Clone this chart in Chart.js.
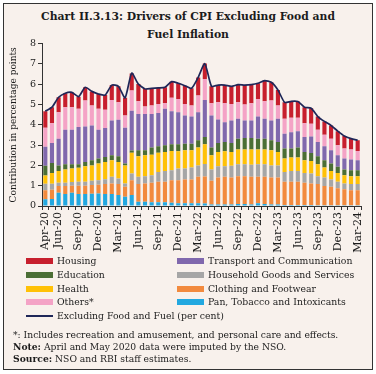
<!DOCTYPE html>
<html lang="en">
<head>
<meta charset="UTF-8">
<title>Chart II.3.13: Drivers of CPI Excluding Food and Fuel Inflation</title>
<script src="https://cdn.jsdelivr.net/npm/chart.js@4.4.1/dist/chart.umd.min.js"></script>
<style>
  * { box-sizing: border-box; margin: 0; padding: 0; }
  body {
    width: 376px; height: 374px; background: #fff;
    position: relative; overflow: hidden;
    font-family: "DejaVu Serif", serif; color: #1c1c1c;
  }
  .frame {
    position: absolute; left: 3px; top: 3px; width: 370px; height: 367px;
    border: 1.5px solid #333; background: #f8f1ec;
  }
  .title {
    position: absolute; left: 0; width: 376px; top: 8px; text-align: center;
    font-weight: bold; font-size: 10.8px; line-height: 17.5px;
  }
  #wrap { position: absolute; left: 0; top: 36px; width: 376px; height: 224px; }
  .leg { position: absolute; font-size: 9.3px; line-height: 12px; white-space: nowrap; }
  .sw { position: absolute; width: 27px; height: 6px; }
  .notes { position: absolute; left: 13px; top: 329px; font-size: 9.2px; line-height: 12px; white-space: nowrap; }
</style>
</head>
<body>
<div class="frame"></div>
<div class="title">Chart II.3.13: Drivers of CPI Excluding Food and<br>Fuel Inflation</div>
<div id="wrap"><canvas id="cpiChart" width="376" height="224"></canvas></div>
<div id="legend"></div>
<div class="notes">
  *: Includes recreation and amusement, and personal care and effects.<br>
  <b>Note:</b> April and May 2020 data were imputed by the NSO.<br>
  <b>Source:</b> NSO and RBI staff estimates.
</div>

<script>
  const months = [
    'Apr-20','May-20','Jun-20','Jul-20','Aug-20','Sep-20','Oct-20','Nov-20','Dec-20','Jan-21','Feb-21','Mar-21',
    'Apr-21','May-21','Jun-21','Jul-21','Aug-21','Sep-21','Oct-21','Nov-21','Dec-21','Jan-22','Feb-22','Mar-22',
    'Apr-22','May-22','Jun-22','Jul-22','Aug-22','Sep-22','Oct-22','Nov-22','Dec-22','Jan-23','Feb-23','Mar-23',
    'Apr-23','May-23','Jun-23','Jul-23','Aug-23','Sep-23','Oct-23','Nov-23','Dec-23','Jan-24','Feb-24','Mar-24'
  ];
  // labels actually printed under the axis
  const shownLabels = ['Apr-20','Jun-20','Sep-20','Dec-20','Mar-21','Jun-21','Sep-21','Dec-21','Mar-22',
    'Jun-22','Sep-22','Dec-22','Mar-23','Jun-23','Sep-23','Dec-23','Mar-24'];

  // contributions in percentage points (bottom of stack first)
  const pan = [.33,.35,.65,.59,.65,.59,.59,.60,.62,.59,.59,.54,
    .46,.54,.21,.21,.18,.18,.18,.16,.13,.13,.13,.13,
    .12,.08,.08,.08,.08,.10,.10,.08,.13,.10,.08,.08,
    .05,.05,.05,.05,.05,.04,.04,.04,.04,.04,.04,.04];
  const clothing = [.45,.45,.33,.39,.35,.41,.41,.43,.43,.49,.52,.54,
    .49,.73,.87,.90,.96,1.01,1.01,1.11,1.14,1.18,1.18,1.31,
    1.33,1.16,1.32,1.36,1.32,1.37,1.37,1.36,1.31,1.34,1.32,1.32,
    1.14,1.14,1.14,1.09,1.06,1.04,.94,.91,.83,.78,.74,.74];
  const household = [.32,.30,.16,.16,.18,.19,.19,.21,.22,.24,.33,.28,
    .16,.33,.36,.36,.38,.49,.54,.49,.58,.54,.59,.56,
    .62,.56,.56,.52,.58,.59,.59,.59,.62,.62,.60,.60,
    .49,.54,.54,.49,.49,.39,.42,.36,.32,.29,.30,.30];
  const health = [.40,.53,.59,.66,.67,.69,.77,.76,.82,.85,.81,.81,
    .89,1.02,1.01,1.03,1.01,.95,.93,.95,.85,.90,.85,.88,
    .97,.70,.70,.74,.68,.72,.72,.75,.72,.72,.75,.66,
    .66,.66,.66,.62,.62,.59,.50,.42,.44,.41,.39,.39];
  const education = [.48,.49,.27,.26,.21,.18,.21,.25,.25,.25,.25,.28,
    .10,.12,.30,.25,.35,.31,.33,.33,.34,.32,.32,.36,
    .36,.38,.44,.45,.44,.54,.57,.57,.54,.54,.49,.49,
    .49,.44,.49,.41,.39,.39,.35,.36,.30,.28,.29,.29];
  const transport = [.94,.98,1.32,1.70,1.70,1.83,1.75,1.72,1.42,1.42,1.72,1.80,
    1.76,1.96,1.79,1.79,1.66,1.64,1.80,1.63,1.58,1.39,1.34,1.38,
    1.82,1.58,1.16,.98,1.12,.98,.87,.87,1.09,.98,.98,1.15,
    .73,.81,.81,.74,.82,.70,.69,.66,.57,.54,.53,.49];
  const others = [.94,.98,1.30,1.11,1.11,.90,1.28,.98,1.03,.90,1.01,.86,
    .60,.99,.62,.36,.41,.45,.28,.66,.66,.57,.54,.83,
    1.04,.61,.85,.94,.81,.81,.78,.85,.87,.86,.98,.65,
    .74,.71,.66,.68,.62,.61,.57,.57,.49,.49,.49,.46];
  const housing = [.81,.79,.74,.69,.73,.60,.65,.70,.73,.73,.73,.79,
    .87,.84,.85,.87,.85,.79,.78,.80,.77,.90,.85,.89,
    .76,.83,.85,.89,.87,.85,.96,.91,.77,1.02,.90,.77,
    .81,.81,.80,.79,.77,.65,.66,.65,.70,.62,.54,.53];
  // headline: excluding food and fuel (per cent)
  const exFoodFuel = [4.67,4.87,5.36,5.56,5.60,5.39,5.85,5.65,5.52,5.47,5.96,5.90,
    5.33,6.55,6.01,5.77,5.80,5.82,5.85,6.13,6.05,5.93,5.80,6.34,
    7.02,5.90,5.96,5.96,5.90,5.98,5.96,5.98,6.05,6.18,6.10,5.72,
    5.11,5.16,5.15,4.87,4.82,4.41,4.17,3.97,3.69,3.45,3.32,3.24];

  const yTicks = [0, 1, 2, 3, 4, 5, 6, 7, 8];

  const series = [
    { label: 'Pan, Tobacco and Intoxicants', data: pan, color: '#22a8e0' },
    { label: 'Clothing and Footwear', data: clothing, color: '#f28a3e' },
    { label: 'Household Goods and Services', data: household, color: '#a6a6a6' },
    { label: 'Health', data: health, color: '#ffc107' },
    { label: 'Education', data: education, color: '#4b6e35' },
    { label: 'Transport and Communication', data: transport, color: '#8068ad' },
    { label: 'Others*', data: others, color: '#f4a3c6' },
    { label: 'Housing', data: housing, color: '#c71f2d' }
  ];
  const lineColor = '#1f2758';

  const serif = 'DejaVu Serif, serif';
  const ink = '#1c1c1c';

  const datasets = series.map(s => ({
    type: 'bar',
    label: s.label,
    data: s.data,
    backgroundColor: s.color,
    borderWidth: 0,
    barPercentage: 0.62,
    categoryPercentage: 1,
    stack: 'cpi',
    order: 1
  }));
  datasets.push({
    type: 'line',
    label: 'Excluding Food and Fuel (per cent)',
    data: exFoodFuel,
    borderColor: lineColor,
    borderWidth: 1.7,
    pointRadius: 0,
    tension: 0.2,
    fill: false,
    stack: 'line',
    order: 0
  });

  new Chart(document.getElementById('cpiChart'), {
    type: 'bar',
    data: { labels: months, datasets: datasets },
    options: {
      responsive: false,
      animation: false,
      devicePixelRatio: 1,
      layout: { padding: { left: 6, right: 15, top: 7, bottom: 0 } },
      plugins: { legend: { display: false }, tooltip: { enabled: false } },
      scales: {
        x: {
          stacked: true,
          offset: true,
          grid: { drawOnChartArea: false, tickLength: 4, color: '#333', offset: true },
          border: { color: '#333', width: 1 },
          ticks: {
            autoSkip: false, minRotation: 90, maxRotation: 90, padding: 2,
            color: ink, font: { family: serif, size: 11 },
            callback: (v, i) => shownLabels.includes(months[i]) ? months[i] : ''
          },
          afterFit: s => { s.height = 54; }
        },
        y: {
          stacked: true,
          min: yTicks[0], max: yTicks[yTicks.length - 1],
          afterBuildTicks: s => { s.ticks = yTicks.map(v => ({ value: v })); },
          grid: { drawOnChartArea: false, tickLength: 4, color: '#333' },
          border: { color: '#333', width: 1 },
          ticks: { padding: 2, color: ink, font: { family: serif, size: 9.5 } },
          title: {
            display: true, text: 'Contribution in percentage points',
            color: ink, font: { family: serif, size: 9 }, padding: { top: 2, bottom: 0 }
          },
          afterFit: s => { s.width = 36; }
        }
      }
    }
  });

  // legend: two columns, same layout as the printed chart
  const legendRows = [
    ['Housing', 'Transport and Communication'],
    ['Education', 'Household Goods and Services'],
    ['Health', 'Clothing and Footwear'],
    ['Others*', 'Pan, Tobacco and Intoxicants']
  ];
  const rowY = [261, 275, 288.5, 302];
  const legend = document.getElementById('legend');
  const colorOf = name => series.find(s => s.label === name).color;

  function addItem(x, y, text, color, isLine) {
    const sw = document.createElement('div');
    sw.className = 'sw';
    sw.style.left = x + 'px';
    if (isLine) {
      sw.style.top = (y - 1) + 'px';
      sw.style.height = '2px';
    } else {
      sw.style.top = (y - 3) + 'px';
    }
    sw.style.background = color;
    legend.appendChild(sw);
    const t = document.createElement('div');
    t.className = 'leg';
    t.style.left = (x + 31) + 'px';
    t.style.top = (y - 6) + 'px';
    t.textContent = text;
    legend.appendChild(t);
  }
  legendRows.forEach((row, r) => {
    addItem(26, rowY[r], row[0], colorOf(row[0]));
    addItem(177, rowY[r], row[1], colorOf(row[1]));
  });
  addItem(26, 316, 'Excluding Food and Fuel (per cent)', lineColor, true);
</script>
</body>
</html>
